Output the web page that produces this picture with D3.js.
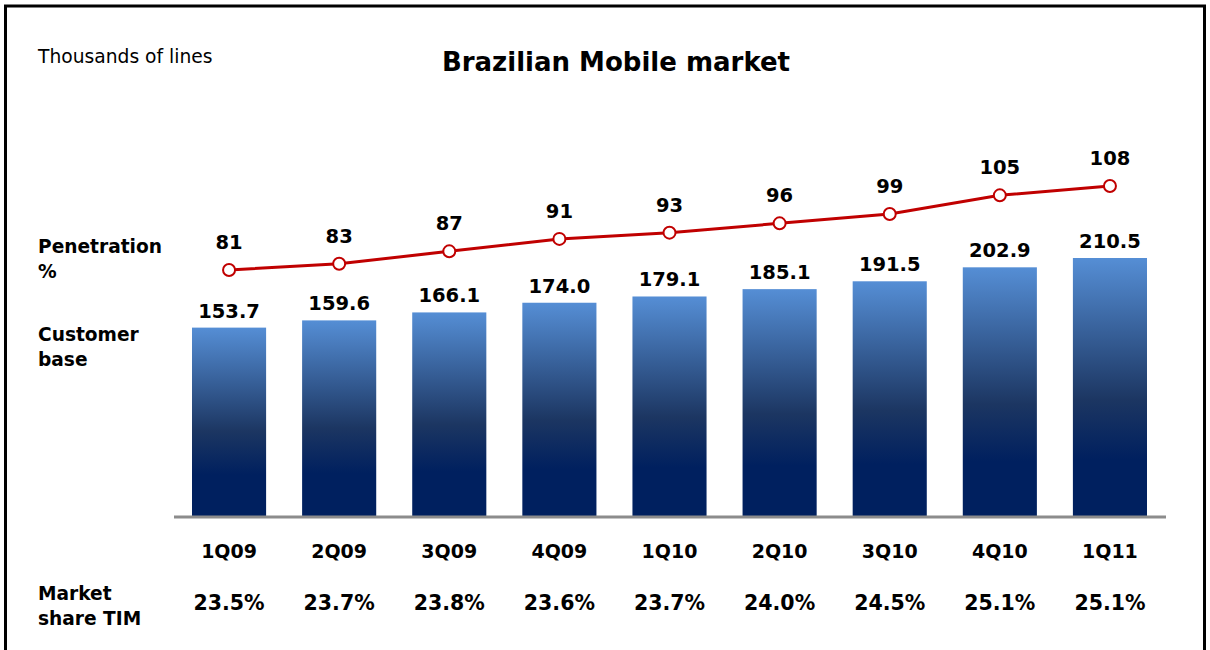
<!DOCTYPE html>
<meta charset="utf-8">
<script src="https://d3js.org/d3.v7.min.js"></script>
<style>
  body { margin: 0; background: #fff; }
  text { font-family: "DejaVu Sans", Verdana, sans-serif; }
</style>
<div id="chart"></div>
<script>
  // data
  const quarters = ["1Q09", "2Q09", "3Q09", "4Q09", "1Q10", "2Q10", "3Q10", "4Q10", "1Q11"];
  const customerBase = [153.7, 159.6, 166.1, 174.0, 179.1, 185.1, 191.5, 202.9, 210.5];
  const penetration = [81, 83, 87, 91, 93, 96, 99, 105, 108];
  const marketShare = ["23.5%", "23.7%", "23.8%", "23.6%", "23.7%", "24.0%", "24.5%", "25.1%", "25.1%"];

  const W = 1210, H = 650;
  const svg = d3.select("#chart").append("svg")
    .attr("width", W).attr("height", H);

  // frame
  svg.append("rect")
    .attr("x", 5.5).attr("y", 6).attr("width", 1199).attr("height", 660)
    .attr("fill", "none").attr("stroke", "#000").attr("stroke-width", 3);

  // bar gradient
  const grad = svg.append("defs").append("linearGradient")
    .attr("id", "barGrad").attr("x1", 0).attr("y1", 0).attr("x2", 0).attr("y2", 1);
  grad.append("stop").attr("offset", "0%").attr("stop-color", "#558ed5");
  grad.append("stop").attr("offset", "55%").attr("stop-color", "#1c3662");
  grad.append("stop").attr("offset", "78%").attr("stop-color", "#00205f");
  grad.append("stop").attr("offset", "100%").attr("stop-color", "#00205f");

  const baseline = 516;
  const x = d3.scaleBand().domain(quarters).range([192, 1147]).paddingInner(0.327).paddingOuter(0);
  const yBar = d3.scaleLinear().domain([0, 210.5]).range([baseline, 258]);
  const yLine = d3.scaleLinear().domain([81, 108]).range([270, 186]);
  const cx = d => x(d) + x.bandwidth() / 2;

  // bars
  svg.selectAll("rect.bar").data(quarters).join("rect")
    .attr("class", "bar")
    .attr("x", d => x(d))
    .attr("width", x.bandwidth())
    .attr("y", (d, i) => yBar(customerBase[i]))
    .attr("height", (d, i) => baseline - yBar(customerBase[i]))
    .attr("fill", "url(#barGrad)");

  // axis line
  svg.append("line")
    .attr("x1", 174).attr("x2", 1166).attr("y1", baseline + 1).attr("y2", baseline + 1)
    .attr("stroke", "#8c8c8c").attr("stroke-width", 3);

  // bar labels
  svg.selectAll("text.barlab").data(quarters).join("text")
    .attr("class", "barlab")
    .attr("x", cx)
    .attr("y", (d, i) => yBar(customerBase[i]) - 10)
    .attr("text-anchor", "middle")
    .attr("font-weight", "bold").attr("font-size", 19.5)
    .text((d, i) => customerBase[i].toFixed(1));

  // penetration line
  const line = d3.line().x((d, i) => cx(quarters[i])).y(d => yLine(d));
  svg.append("path").datum(penetration)
    .attr("d", line).attr("fill", "none")
    .attr("stroke", "#c00000").attr("stroke-width", 3);

  svg.selectAll("circle.pt").data(penetration).join("circle")
    .attr("class", "pt")
    .attr("cx", (d, i) => cx(quarters[i]))
    .attr("cy", d => yLine(d))
    .attr("r", 6)
    .attr("fill", "#fff").attr("stroke", "#c00000").attr("stroke-width", 2);

  svg.selectAll("text.ptlab").data(penetration).join("text")
    .attr("class", "ptlab")
    .attr("x", (d, i) => cx(quarters[i]))
    .attr("y", d => yLine(d) - 21)
    .attr("text-anchor", "middle")
    .attr("font-weight", "bold").attr("font-size", 19.5)
    .text(d => d);

  // category labels and market share
  svg.selectAll("text.cat").data(quarters).join("text")
    .attr("class", "cat")
    .attr("x", cx).attr("y", 558)
    .attr("text-anchor", "middle")
    .attr("font-weight", "bold").attr("font-size", 19)
    .text(d => d);

  svg.selectAll("text.share").data(marketShare).join("text")
    .attr("class", "share")
    .attr("x", (d, i) => cx(quarters[i])).attr("y", 610)
    .attr("text-anchor", "middle")
    .attr("font-weight", "bold").attr("font-size", 20.5)
    .text(d => d);

  // titles and row labels
  svg.append("text").attr("x", 38).attr("y", 63)
    .attr("font-size", 18.7).text("Thousands of lines");
  svg.append("text").attr("x", 616).attr("y", 71)
    .attr("text-anchor", "middle")
    .attr("font-weight", "bold").attr("font-size", 26)
    .text("Brazilian Mobile market");

  const rowLabels = [
    { lines: ["Penetration", "%"], y: 253 },
    { lines: ["Customer", "base"], y: 341 },
    { lines: ["Market", "share TIM"], y: 600 }
  ];
  rowLabels.forEach(r => {
    const t = svg.append("text").attr("x", 38).attr("y", r.y)
      .attr("font-weight", "bold").attr("font-size", 18.6);
    r.lines.forEach((l, i) => t.append("tspan").attr("x", 38).attr("dy", i ? 25 : 0).text(l));
  });
</script>
